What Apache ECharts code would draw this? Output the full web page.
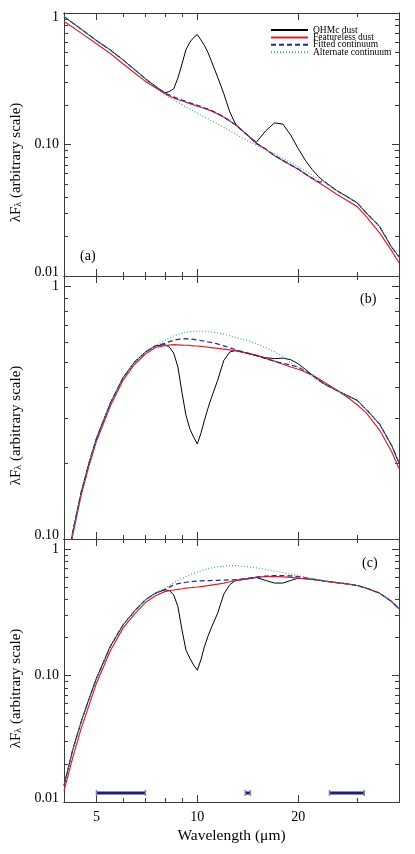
<!DOCTYPE html>
<html>
<head>
<meta charset="utf-8">
<script src="https://cdn.jsdelivr.net/npm/echarts@6/dist/echarts.min.js"></script>
<style>
  html, body { margin: 0; padding: 0; background: #fff; }
  #main { width: 415px; height: 854px; }
</style>
</head>
<body>
<div id="main"></div>
<script>
// wavelength grid (micron), shared by the three panels
var wave = [4, 4.25, 4.5, 4.75, 5, 5.5, 6, 6.5, 7, 7.5, 8, 8.25, 8.5, 8.75, 9, 9.25, 9.5, 9.75, 10, 10.25,
  10.5, 10.75, 11, 11.5, 12, 12.5, 13, 14, 15, 16, 17, 18, 19, 20, 21, 22, 23, 24, 26, 28, 30, 32, 35, 38, 40];

// panel (a)
var ohmcA = [0.94, 0.84, 0.754, 0.68, 0.617, 0.523, 0.44, 0.371, 0.316, 0.277, 0.247, 0.253, 0.265, 0.32, 0.41,
  0.525, 0.6, 0.65, 0.685, 0.625, 0.566, 0.503, 0.435, 0.325, 0.243, 0.177, 0.143, 0.12, 0.104, 0.127, 0.146,
  0.143, 0.118, 0.0932, 0.076, 0.0647, 0.057, 0.052, 0.0448, 0.0401, 0.036, 0.030, 0.0238, 0.0166, 0.014];
var featA = [0.863, 0.78, 0.703, 0.64, 0.583, 0.492, 0.411, 0.35, 0.302, 0.27, 0.243, 0.234, 0.226, 0.22, 0.215,
  0.21, 0.204, 0.2, 0.196, 0.192, 0.188, 0.184, 0.18, 0.171, 0.161, 0.151, 0.141, 0.12, 0.102, 0.092, 0.082,
  0.0755, 0.0698, 0.065, 0.0597, 0.0553, 0.0515, 0.0482, 0.042, 0.0375, 0.0337, 0.0282, 0.0213, 0.0156, 0.0126];
var fitA = [0.94, 0.84, 0.754, 0.68, 0.617, 0.523, 0.44, 0.371, 0.316, 0.277, 0.246, 0.238, 0.23, 0.224, 0.218,
  0.212, 0.207, 0.203, 0.199, 0.195, 0.19, 0.186, 0.182, 0.172, 0.162, 0.151, 0.141, 0.12, 0.102, 0.0925, 0.0825,
  0.0758, 0.07, 0.0652, 0.0598, 0.0555, 0.052, 0.052, 0.0448, 0.0401, 0.036, 0.030, 0.0238, 0.0166, 0.014];
var altA = [0.94, 0.84, 0.754, 0.68, 0.617, 0.523, 0.44, 0.371, 0.316, 0.277, 0.238, 0.228, 0.218, 0.209, 0.201,
  0.193, 0.186, 0.179, 0.173, 0.167, 0.162, 0.157, 0.152, 0.143, 0.135, 0.127, 0.12, 0.108, 0.099, 0.091, 0.085,
  0.0785, 0.073, 0.068, 0.063, 0.0585, 0.0545, 0.052, 0.0448, 0.0401, 0.036, 0.030, 0.0238, 0.0166, 0.014];

// panel (b)
var ohmcB = [0.068, 0.107, 0.153, 0.2, 0.25, 0.345, 0.435, 0.502, 0.55, 0.582, 0.588, 0.575, 0.545, 0.48, 0.38,
  0.309, 0.273, 0.253, 0.238, 0.262, 0.295, 0.328, 0.36, 0.425, 0.51, 0.55, 0.558, 0.545, 0.532, 0.522, 0.518,
  0.52, 0.513, 0.494, 0.47, 0.447, 0.427, 0.41, 0.388, 0.37, 0.354, 0.325, 0.285, 0.235, 0.2];
var featB = [0.066, 0.104, 0.149, 0.195, 0.244, 0.336, 0.425, 0.492, 0.54, 0.573, 0.583, 0.586, 0.588, 0.587, 0.586,
  0.585, 0.584, 0.582, 0.581, 0.579, 0.577, 0.575, 0.573, 0.569, 0.565, 0.561, 0.556, 0.546, 0.535, 0.519, 0.506,
  0.492, 0.48, 0.47, 0.459, 0.446, 0.432, 0.417, 0.39, 0.365, 0.34, 0.315, 0.27, 0.222, 0.19];
var fitB = [0.068, 0.107, 0.153, 0.2, 0.25, 0.345, 0.435, 0.502, 0.55, 0.582, 0.595, 0.605, 0.612, 0.617, 0.62,
  0.621, 0.62, 0.617, 0.614, 0.611, 0.607, 0.603, 0.6, 0.592, 0.582, 0.572, 0.562, 0.546, 0.533, 0.518, 0.505,
  0.497, 0.488, 0.48, 0.462, 0.445, 0.427, 0.41, 0.388, 0.37, 0.354, 0.325, 0.285, 0.235, 0.2];
var altB = [0.068, 0.107, 0.153, 0.2, 0.25, 0.345, 0.435, 0.502, 0.55, 0.585, 0.612, 0.625, 0.637, 0.646, 0.653,
  0.658, 0.662, 0.664, 0.665, 0.665, 0.664, 0.662, 0.66, 0.655, 0.647, 0.638, 0.629, 0.612, 0.594, 0.573, 0.551,
  0.527, 0.5, 0.478, 0.46, 0.441, 0.422, 0.41, 0.388, 0.37, 0.354, 0.325, 0.285, 0.235, 0.2];

// panel (c)
var ohmcC = [0.0135, 0.026, 0.043, 0.065, 0.095, 0.17, 0.251, 0.324, 0.397, 0.448, 0.475, 0.47, 0.434, 0.351, 0.23,
  0.159, 0.137, 0.121, 0.11, 0.133, 0.169, 0.203, 0.237, 0.311, 0.44, 0.522, 0.565, 0.578, 0.596, 0.564, 0.538,
  0.538, 0.564, 0.588, 0.582, 0.575, 0.567, 0.558, 0.543, 0.53, 0.515, 0.49, 0.448, 0.385, 0.337];
var featC = [0.0122, 0.0225, 0.038, 0.058, 0.087, 0.157, 0.237, 0.307, 0.377, 0.427, 0.46, 0.468, 0.474, 0.48, 0.485,
  0.49, 0.494, 0.498, 0.501, 0.505, 0.509, 0.513, 0.518, 0.527, 0.538, 0.551, 0.563, 0.58, 0.596, 0.606, 0.607,
  0.603, 0.596, 0.588, 0.582, 0.575, 0.567, 0.558, 0.543, 0.53, 0.515, 0.49, 0.448, 0.385, 0.337];
var fitC = [0.0135, 0.026, 0.043, 0.065, 0.095, 0.17, 0.251, 0.324, 0.397, 0.448, 0.48, 0.5, 0.52, 0.532, 0.54,
  0.546, 0.551, 0.555, 0.558, 0.56, 0.562, 0.563, 0.564, 0.566, 0.568, 0.57, 0.572, 0.585, 0.6, 0.612, 0.615,
  0.615, 0.613, 0.605, 0.593, 0.58, 0.569, 0.558, 0.543, 0.53, 0.515, 0.49, 0.448, 0.385, 0.337];
var altC = [0.0135, 0.026, 0.043, 0.065, 0.095, 0.17, 0.251, 0.324, 0.397, 0.448, 0.49, 0.515, 0.54, 0.565, 0.585,
  0.605, 0.625, 0.643, 0.658, 0.672, 0.686, 0.698, 0.708, 0.722, 0.733, 0.739, 0.74, 0.726, 0.71, 0.69, 0.67,
  0.65, 0.632, 0.616, 0.6, 0.585, 0.57, 0.558, 0.543, 0.53, 0.515, 0.49, 0.448, 0.385, 0.337];

// continuum fitting windows shown in panel (c)
var fitBands = [[5, 7], [13.9, 14.4], [24.8, 31.5]];
var bandLevel = 0.0118;

// ticks
var xMajor = [5, 10, 20];
var xMinor = [6, 7, 8, 9, 30];
var yMajor = [0.01, 0.1, 1];
var yMinor = [0.02, 0.03, 0.04, 0.05, 0.06, 0.07, 0.08, 0.09, 0.2, 0.3, 0.4, 0.5, 0.6, 0.7, 0.8, 0.9];

var seriesNames = ['OHMc dust', 'Featureless dust', 'Fitted continuum', 'Alternate continuum'];

var font = '"Liberation Serif", "Times New Roman", serif';
var frameColor = '#3a3a3a';
var lineStyles = [
  { color: '#000000', width: 1, type: 'solid' },
  { color: '#e02028', width: 1.2, type: 'solid' },
  { color: '#26269a', width: 1.2, type: [5, 3] },
  { color: '#3fae80', width: 1.2, type: [1, 2] }
];

var panels = [
  { curves: [ohmcA, featA, fitA, altA], range: [0.01, 1], tag: '(a)', tagPos: [80, 256] },
  { curves: [ohmcB, featB, fitB, altB], range: [0.1, 1.1], tag: '(b)', tagPos: [360, 299] },
  { curves: [ohmcC, featC, fitC, altC], range: [0.01, 1.2], tag: '(c)', tagPos: [362, 563] }
];
var panelTops = [13, 276, 539];
var panelHeight = 263;

function pairs(arr) {
  return wave.map(function (w, i) { return [w, arr[i]]; });
}

function yLabel(p) {
  return function (v) {
    var e = Math.round(Math.log10(v));
    var t = e === 0 ? '1' : (e === -1 ? '0.10' : '0.01');
    if (p === 0 && e === 0) return '{dn|' + t + '}';
    if ((p !== 1 && e === -2) || (p === 1 && e === -1)) return '{up|' + t + '}';
    return t;
  };
}

function xAxisDef(gi, pos, ticks, len, labels) {
  return {
    gridIndex: gi, type: 'log', logBase: 10, min: 4, max: 40, position: pos,
    axisLine: { show: true, onZero: false, lineStyle: { color: frameColor, width: 1 } },
    axisTick: { show: true, inside: true, length: len, customValues: ticks, lineStyle: { color: frameColor } },
    axisLabel: { show: labels, customValues: ticks, margin: 8, fontFamily: font, fontSize: 14, color: '#000' },
    splitLine: { show: false },
    name: labels ? 'Wavelength (\u03bcm)' : '',
    nameLocation: 'middle', nameGap: 26,
    nameTextStyle: { fontFamily: font, fontSize: 15.5, color: '#000' }
  };
}

function yAxisDef(gi, pos, ticks, len, p, labels) {
  var r = panels[p].range;
  return {
    gridIndex: gi, type: 'log', logBase: 10, min: r[0], max: r[1], position: pos,
    axisLine: { show: true, onZero: false, lineStyle: { color: frameColor, width: 1 } },
    axisTick: { show: true, inside: true, length: len, customValues: ticks, lineStyle: { color: frameColor } },
    axisLabel: {
      show: labels, customValues: ticks, margin: 5, fontFamily: font, fontSize: 14, color: '#000',
      formatter: yLabel(p),
      rich: { up: { padding: [0, 0, 8, 0] }, dn: { padding: [9, 0, 0, 0] } }
    },
    splitLine: { show: false },
    name: labels ? '{n|\u03bbF}{s|\u03bb}{n| (arbitrary scale)}' : '',
    nameLocation: 'middle', nameGap: 38,
    nameTextStyle: {
      fontFamily: font, fontSize: 15, color: '#000', padding: [0, 36, 0, 0],
      rich: {
        n: { fontFamily: font, fontSize: 15, color: '#000' },
        s: { fontFamily: font, fontSize: 10, color: '#000', padding: [6, 0, 0, 0] }
      }
    }
  };
}

var grids = [], xAxes = [], yAxes = [], series = [], graphics = [];

panels.forEach(function (panel, p) {
  grids.push({ left: 64, width: 335, top: panelTops[p], height: panelHeight, outerBoundsMode: 'none' });
  xAxes.push(xAxisDef(p, 'bottom', xMajor, 7, p === 2));
  xAxes.push(xAxisDef(p, 'bottom', xMinor, 4, false));
  xAxes.push(xAxisDef(p, 'top', xMajor, 7, false));
  xAxes.push(xAxisDef(p, 'top', xMinor, 4, false));
  yAxes.push(yAxisDef(p, 'left', yMajor, 7, p, true));
  yAxes.push(yAxisDef(p, 'left', yMinor, 4, p, false));
  yAxes.push(yAxisDef(p, 'right', yMajor, 7, p, false));
  yAxes.push(yAxisDef(p, 'right', yMinor, 4, p, false));

  panel.curves.forEach(function (arr, k) {
    series.push({
      name: seriesNames[k], type: 'line', xAxisIndex: 4 * p, yAxisIndex: 4 * p,
      data: pairs(arr), symbol: 'none', showSymbol: false, smooth: false, clip: true,
      lineStyle: lineStyles[k], itemStyle: { color: lineStyles[k].color },
      z: 2 + k
    });
  });

  graphics.push({
    type: 'text', x: panel.tagPos[0], y: panel.tagPos[1],
    style: { text: panel.tag, fontFamily: font, fontSize: 14, fill: '#000', verticalAlign: 'middle' }
  });
});

// fitting windows drawn as thick bars in panel (c)
fitBands.forEach(function (b) {
  series.push({
    type: 'line', xAxisIndex: 8, yAxisIndex: 8,
    data: [[b[0], bandLevel], [b[1], bandLevel]],
    symbol: 'rect', symbolSize: [1.5, 6], showSymbol: true,
    lineStyle: { color: '#1f1f7a', width: 3 }, itemStyle: { color: '#8080b8' },
    z: 6, silent: true
  });
});

var chart = echarts.init(document.getElementById('main'));
chart.setOption({
  animation: false,
  backgroundColor: '#fff',
  grid: grids,
  xAxis: xAxes,
  yAxis: yAxes,
  legend: {
    data: seriesNames, orient: 'vertical', left: 270, top: 25, padding: 0,
    itemWidth: 37, itemHeight: 7, itemGap: -2.6,
    itemStyle: { opacity: 0 },
    textStyle: { fontFamily: font, fontSize: 9.5, color: '#000' }
  },
  graphic: graphics,
  series: series
});
</script>
</body>
</html>
